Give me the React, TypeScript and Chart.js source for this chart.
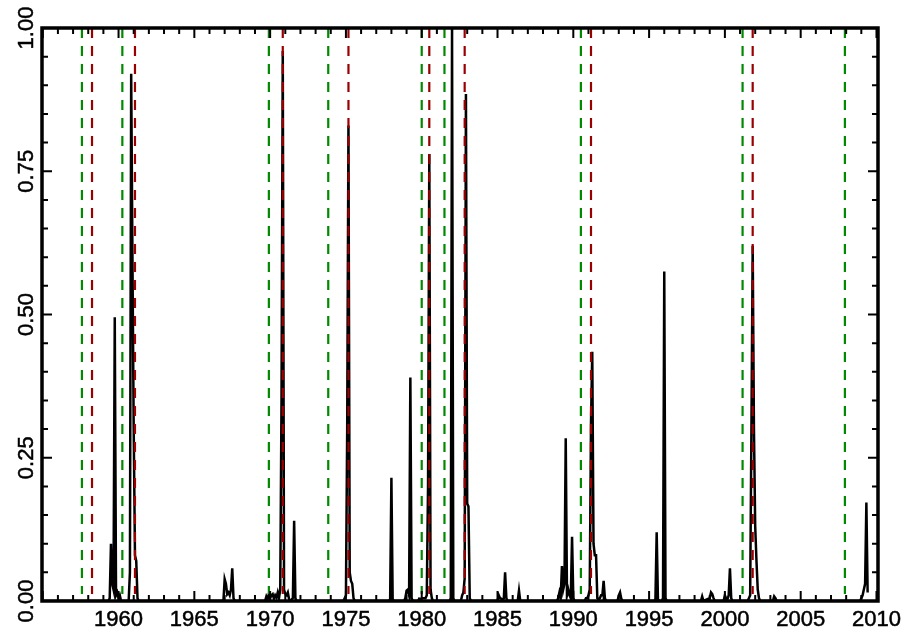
import React, { useEffect, useRef } from 'react';
import { Chart, registerables } from 'chart.js';

Chart.register(...registerables);

// Monthly observations (only months that differ from ~0 plus zero anchors)
const obsMonths: string[] = [
  '1955-01', '1959-05', '1959-06', '1959-07', '1959-08', '1959-09', '1959-10', '1959-11', '1959-12', '1960-01', '1960-02', '1960-03',
  '1960-09', '1960-10', '1960-11', '1960-12', '1961-01', '1961-02', '1961-03', '1961-04', '1961-05',
  '1966-12', '1967-01', '1967-02', '1967-03', '1967-04', '1967-05', '1967-06', '1967-07', '1967-08', '1967-09',
  '1969-09', '1969-10', '1969-11', '1969-12', '1970-01', '1970-02', '1970-03', '1970-04', '1970-05', '1970-06', '1970-07', '1970-08',
  '1970-09', '1970-10', '1970-11', '1970-12', '1971-01', '1971-02', '1971-03', '1971-04', '1971-05', '1971-07', '1971-08', '1971-09', '1971-10',
  '1974-11', '1974-12', '1975-01', '1975-02', '1975-03', '1975-04', '1975-05', '1975-06', '1975-07', '1975-08',
  '1977-11', '1977-12', '1978-01', '1978-02', '1978-03',
  '1978-11', '1978-12', '1979-01', '1979-02', '1979-03', '1979-04', '1979-05', '1979-06',
  '1979-10', '1979-11', '1979-12', '1980-01', '1980-04', '1980-05', '1980-06', '1980-07', '1980-08', '1980-09', '1980-10',
  '1981-11', '1981-12', '1982-01', '1982-02', '1982-03',
  '1982-08', '1982-09', '1982-10', '1982-11', '1982-12', '1983-01', '1983-02', '1983-03', '1983-04',
  '1985-01', '1985-02', '1985-03', '1985-04', '1985-05', '1985-06', '1985-07', '1985-08', '1985-09',
  '1986-05', '1986-06', '1986-07',
  '1988-12', '1989-01', '1989-02', '1989-03', '1989-04', '1989-05', '1989-06', '1989-07', '1989-08', '1989-09', '1989-10', '1989-11', '1989-12', '1990-01', '1990-02',
  '1990-10', '1990-11', '1990-12', '1991-01', '1991-02', '1991-03', '1991-04', '1991-05', '1991-06', '1991-07', '1991-08', '1991-09', '1991-10', '1991-11', '1991-12', '1992-01', '1992-02', '1992-03',
  '1992-12', '1993-01', '1993-02', '1993-03', '1993-04',
  '1995-05', '1995-06', '1995-07', '1995-08', '1995-09',
  '1995-11', '1995-12', '1996-01', '1996-02', '1996-03',
  '1998-06', '1998-07', '1998-08',
  '1999-01', '1999-02', '1999-03', '1999-04', '1999-05',
  '1999-12', '2000-01', '2000-02', '2000-03', '2000-04', '2000-05', '2000-06', '2000-07',
  '2001-07', '2001-08', '2001-09', '2001-10', '2001-11', '2001-12', '2002-01', '2002-02', '2002-03', '2002-04', '2002-05',
  '2003-03', '2003-04', '2003-05', '2003-06',
  '2008-12', '2009-01', '2009-02', '2009-03', '2009-04', '2009-05', '2009-06',
];

const obsValues: number[] = [
  0, 0, 0.005, 0.10, 0.03, 0.02, 0.495, 0.01, 0.015, 0.005, 0.01, 0,
  0, 0.05, 0.92, 0.60, 0.30, 0.08, 0.07, 0.005, 0,
  0, 0.038, 0.03, 0.012, 0.015, 0.01, 0.02, 0.057, 0.005, 0,
  0, 0.008, 0.003, 0.012, 0.005, 0.01, 0.012, 0.004, 0.01, 0.006, 0.015, 0.005,
  0.02, 0.35, 0.96, 0.02, 0.012, 0.01, 0.015, 0.003, 0, 0.005, 0.14, 0.005, 0,
  0, 0.005, 0.01, 0.30, 0.83, 0.05, 0.035, 0.03, 0.005, 0,
  0, 0.003, 0.215, 0.003, 0,
  0, 0.005, 0.018, 0.02, 0.01, 0.39, 0.005, 0,
  0, 0.004, 0.003, 0.005, 0.005, 0.01, 0.20, 0.78, 0.02, 0.005, 0,
  0, 0.005, 1.0, 0.005, 0,
  0, 0.01, 0.015, 0.04, 0.885, 0.17, 0.165, 0.005, 0,
  0, 0.01, 0.005, 0.004, 0, 0.005, 0.05, 0.005, 0,
  0, 0.018, 0,
  0, 0.005, 0.015, 0.005, 0.061, 0.02, 0.03, 0.284, 0.01, 0.02, 0.01, 0.005, 0.112, 0.005, 0,
  0, 0.005, 0.005, 0.01, 0.02, 0.31, 0.435, 0.10, 0.08, 0.08, 0.005, 0.003, 0.005, 0.01, 0.01, 0.035, 0.005, 0,
  0, 0.01, 0.015, 0.004, 0,
  0, 0.003, 0.12, 0.003, 0,
  0, 0.005, 0.575, 0.005, 0,
  0, 0.008, 0,
  0.005, 0.015, 0.012, 0.005, 0,
  0, 0.01, 0.004, 0.003, 0.01, 0.057, 0.005, 0,
  0, 0.005, 0.01, 0.30, 0.62, 0.30, 0.13, 0.07, 0.02, 0.005, 0,
  0, 0.008, 0.005, 0,
  0, 0.005, 0.01, 0.02, 0.03, 0.172, 0.015,
];

// NBER business-cycle peaks (green) and troughs (red)
const peakMonths: string[] = ['1957-08', '1960-04', '1969-12', '1973-11', '1980-01', '1981-07', '1990-07', '2001-03', '2007-12'];
const troughMonths: string[] = ['1958-04', '1961-02', '1970-11', '1975-03', '1980-07', '1982-11', '1991-03', '2001-11'];

const X_MIN = 1954.95;
const X_MAX = 2010.1;
const xTickStep = 5;
const yTickStep = 0.25;
const hiddenXTicks = [1955];

const GREEN = '#008a00';
const RED = '#9a0000';
const FONT = { family: "'Liberation Sans', Arial, sans-serif", size: 22 };

const toYear = (m: string) => {
  const [y, mo] = m.split('-').map(Number);
  return y + (mo - 1) / 12;
};

const framePlugin = {
  id: 'frameTicks',
  afterDatasetsDraw(chart: any) {
    const { ctx, chartArea: a, scales } = chart;
    const xs = scales.x;
    const ys = scales.y;
    ctx.save();
    ctx.strokeStyle = '#000';
    ctx.lineWidth = 2;
    ctx.beginPath();
    for (let yr = Math.ceil(xs.min); yr <= Math.floor(xs.max); yr++) {
      const px = xs.getPixelForValue(yr);
      const len = yr % 5 === 0 ? 10 : 6;
      ctx.moveTo(px, a.bottom);
      ctx.lineTo(px, a.bottom - len);
      ctx.moveTo(px, a.top);
      ctx.lineTo(px, a.top + len);
    }
    for (let i = 1; i < 20; i++) {
      const py = ys.getPixelForValue(i * 0.05);
      const len = i % 5 === 0 ? 10 : 6;
      ctx.moveTo(a.left, py);
      ctx.lineTo(a.left + len, py);
      ctx.moveTo(a.right, py);
      ctx.lineTo(a.right - len, py);
    }
    ctx.stroke();
    ctx.lineWidth = 3.5;
    ctx.strokeRect(a.left, a.top, a.right - a.left, a.bottom - a.top);
    ctx.restore();
  },
};

export default function App() {
  const ref = useRef<HTMLCanvasElement>(null);

  useEffect(() => {
    const series = obsMonths.map((m, i) => ({ x: toYear(m), y: obsValues[i] }));
    const vline = (m: string, color: string) => ({
      data: [{ x: toYear(m), y: 1 }, { x: toYear(m), y: 0.012 }],
      borderColor: color,
      borderWidth: 2.2,
      borderDash: [10, 8],
      pointRadius: 0,
      fill: false,
    });
    const datasets: any[] = [
      ...troughMonths.map((m) => vline(m, RED)),
      ...peakMonths.map((m) => vline(m, GREEN)),
      {
        data: series,
        borderColor: '#000',
        borderWidth: 2.5,
        pointRadius: 0,
        tension: 0,
        fill: false,
      },
    ];

    const chart = new Chart(ref.current as HTMLCanvasElement, {
      type: 'line',
      data: { datasets },
      options: {
        animation: false,
        responsive: false,
        maintainAspectRatio: false,
        layout: { padding: { top: 28, right: 28, left: 0, bottom: 0 } },
        plugins: { legend: { display: false }, tooltip: { enabled: false } },
        scales: {
          x: {
            type: 'linear',
            min: X_MIN,
            max: X_MAX,
            grid: { display: false, drawTicks: false },
            border: { display: false },
            afterFit: (s: any) => { s.height = 33; },
            ticks: {
              stepSize: xTickStep,
              includeBounds: false,
              autoSkip: false,
              maxRotation: 0,
              minRotation: 0,
              padding: 6,
              color: '#000',
              textStrokeColor: '#000',
              textStrokeWidth: 0.5,
              font: FONT,
              callback: (v: any) => (hiddenXTicks.includes(Number(v)) ? '' : String(v)),
            },
          },
          y: {
            type: 'linear',
            min: 0,
            max: 1,
            grid: { display: false, drawTicks: false },
            border: { display: false },
            afterFit: (s: any) => { s.width = 42; },
            ticks: {
              stepSize: yTickStep,
              minRotation: 90,
              maxRotation: 90,
              crossAlign: 'center',
              padding: -6.5,
              color: '#000',
              textStrokeColor: '#000',
              textStrokeWidth: 0.5,
              font: FONT,
              callback: (v: any) => Number(v).toFixed(2),
            },
          },
        },
      },
      plugins: [framePlugin],
    } as any);
    return () => chart.destroy();
  }, []);

  return (
    <div style={{ position: 'fixed', left: 0, top: 0, width: 907, height: 634, background: '#fff' }}>
      <canvas ref={ref} width={907} height={634} style={{ display: 'block', width: 907, height: 634 }} />
    </div>
  );
}
